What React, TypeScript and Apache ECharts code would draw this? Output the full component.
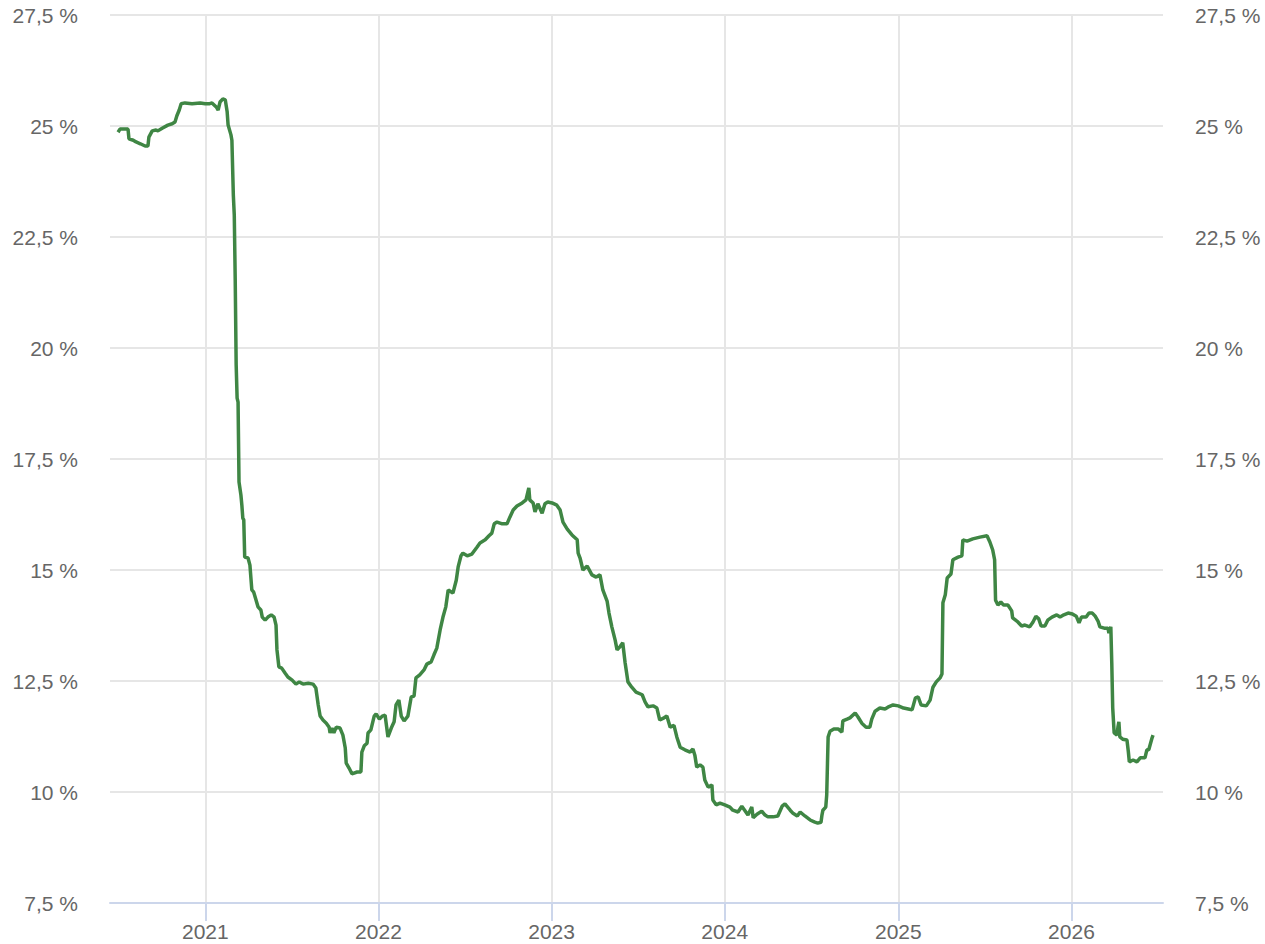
import React, { useEffect, useRef } from "react";
import * as echarts from "echarts";

const dates: string[] = [
  "2020-07-01","2020-07-05","2020-07-22","2020-07-24","2020-08-02","2020-08-08","2020-08-17","2020-08-27","2020-09-02","2020-09-04",
  "2020-09-11","2020-09-19","2020-09-23","2020-10-02","2020-10-14","2020-10-23","2020-10-29","2020-11-02","2020-11-07","2020-11-11",
  "2020-11-19","2020-12-04","2020-12-21",
  "2021-01-01","2021-01-09","2021-01-15","2021-01-24","2021-01-28","2021-02-01","2021-02-07","2021-02-12","2021-02-16","2021-02-18",
  "2021-02-24","2021-02-26","2021-03-01","2021-03-03","2021-03-05","2021-03-07","2021-03-09","2021-03-11","2021-03-13","2021-03-17",
  "2021-03-19","2021-03-21","2021-03-23","2021-03-25","2021-04-01","2021-04-05","2021-04-09","2021-04-13","2021-04-18","2021-04-22",
  "2021-04-28","2021-05-01","2021-05-07","2021-05-13","2021-05-20","2021-05-26","2021-05-30","2021-06-01","2021-06-05","2021-06-11",
  "2021-06-18","2021-06-24","2021-07-03","2021-07-11","2021-07-18","2021-07-26","2021-08-06","2021-08-16","2021-08-22","2021-08-27",
  "2021-08-31","2021-09-06","2021-09-13","2021-09-19","2021-09-21","2021-09-25","2021-09-29","2021-10-04","2021-10-12","2021-10-18",
  "2021-10-23","2021-10-25","2021-10-31","2021-11-06","2021-11-17","2021-11-25","2021-11-27","2021-12-02","2021-12-08","2021-12-10",
  "2021-12-16","2021-12-23","2021-12-27",
  "2022-01-03","2022-01-09","2022-01-15","2022-01-21","2022-01-28","2022-02-03","2022-02-07","2022-02-13","2022-02-18","2022-02-24",
  "2022-03-04","2022-03-11","2022-03-17","2022-03-21","2022-03-29","2022-04-07","2022-04-13","2022-04-22","2022-04-28","2022-05-04",
  "2022-05-11","2022-05-17","2022-05-23","2022-05-28","2022-06-07","2022-06-14","2022-06-18","2022-06-24","2022-06-28","2022-07-07",
  "2022-07-17","2022-07-28","2022-08-03","2022-08-14","2022-08-22","2022-08-28","2022-09-02","2022-09-08","2022-09-19","2022-09-29",
  "2022-10-05","2022-10-12","2022-10-20","2022-10-31","2022-11-08","2022-11-14","2022-11-16","2022-11-23","2022-11-27","2022-12-03",
  "2022-12-12","2022-12-18","2022-12-24",
  "2023-01-02","2023-01-12","2023-01-19","2023-01-25","2023-02-03","2023-02-13","2023-02-24","2023-02-26","2023-03-02","2023-03-08",
  "2023-03-17","2023-03-27","2023-04-05","2023-04-13","2023-04-19","2023-04-28","2023-05-02","2023-05-08","2023-05-15","2023-05-19",
  "2023-05-25","2023-05-31","2023-06-05","2023-06-11","2023-06-19","2023-06-28","2023-07-11","2023-07-17","2023-07-23","2023-08-03",
  "2023-08-11","2023-08-17","2023-08-26","2023-09-01","2023-09-08","2023-09-16","2023-09-22","2023-09-29","2023-10-09","2023-10-20",
  "2023-10-26","2023-10-30","2023-11-03","2023-11-10","2023-11-16","2023-11-20","2023-11-27","2023-12-05","2023-12-07","2023-12-14",
  "2023-12-22",
  "2024-01-01","2024-01-12","2024-01-18","2024-01-29","2024-02-06","2024-02-12","2024-02-19","2024-02-27","2024-03-01","2024-03-09",
  "2024-03-19","2024-03-26","2024-04-01","2024-04-12","2024-04-22","2024-05-01","2024-05-07","2024-05-18","2024-05-24","2024-06-02",
  "2024-06-08","2024-06-18","2024-06-29","2024-07-09","2024-07-15","2024-07-22","2024-07-24","2024-07-26","2024-08-01","2024-08-03",
  "2024-08-06","2024-08-10","2024-08-18","2024-08-27","2024-09-04","2024-09-06","2024-09-15","2024-09-21","2024-10-02","2024-10-08",
  "2024-10-16","2024-10-25","2024-11-02","2024-11-06","2024-11-13","2024-11-23","2024-12-04","2024-12-10","2024-12-21",
  "2025-01-01","2025-01-12","2025-01-22","2025-01-30","2025-02-06","2025-02-12","2025-02-18","2025-03-01","2025-03-09","2025-03-15",
  "2025-03-22","2025-03-30","2025-04-03","2025-04-05","2025-04-10","2025-04-14","2025-04-22","2025-04-26","2025-05-07","2025-05-15",
  "2025-05-17","2025-05-26","2025-06-07","2025-06-22","2025-07-07","2025-07-13","2025-07-19","2025-07-23","2025-07-25","2025-07-30",
  "2025-08-05","2025-08-11","2025-08-20","2025-08-28","2025-08-30","2025-09-10","2025-09-18","2025-09-25","2025-10-05","2025-10-12",
  "2025-10-18","2025-10-24","2025-10-29","2025-11-06","2025-11-12","2025-11-21","2025-12-01","2025-12-08","2025-12-16","2025-12-25",
  "2026-01-03","2026-01-11","2026-01-17","2026-01-22","2026-02-01","2026-02-07","2026-02-14","2026-02-20","2026-02-26","2026-03-02",
  "2026-03-11","2026-03-19","2026-03-21","2026-03-25","2026-03-27","2026-03-29","2026-04-01","2026-04-07","2026-04-09","2026-04-11",
  "2026-04-13","2026-04-19","2026-04-28","2026-05-01","2026-05-03","2026-05-11","2026-05-19","2026-05-26","2026-06-05","2026-06-09",
  "2026-06-13","2026-06-20","2026-06-22",
];

const rates: number[] = [
  24.86,24.93,24.93,24.71,24.68,24.64,24.6,24.55,24.55,24.75,
  24.89,24.91,24.89,24.95,25.02,25.05,25.09,25.23,25.36,25.5,
  25.52,25.5,25.52,
  25.5,25.5,25.52,25.43,25.36,25.54,25.61,25.59,25.32,25.02,
  24.8,24.68,23.45,23.0,21.53,19.62,18.87,18.78,16.98,16.69,
  16.46,16.17,16.13,15.29,15.27,15.11,14.55,14.5,14.32,14.17,
  14.1,13.94,13.87,13.94,13.99,13.94,13.76,13.2,12.82,12.79,
  12.68,12.59,12.52,12.43,12.48,12.43,12.45,12.43,12.34,11.96,
  11.71,11.62,11.55,11.46,11.33,11.44,11.33,11.46,11.44,11.28,
  10.99,10.65,10.54,10.41,10.45,10.45,10.9,11.04,11.1,11.33,
  11.4,11.71,11.76,
  11.64,11.71,11.73,11.24,11.44,11.58,11.96,12.07,11.71,11.6,
  11.71,12.14,12.16,12.57,12.64,12.75,12.88,12.93,13.09,13.24,
  13.65,13.94,14.17,14.55,14.48,14.77,15.07,15.32,15.38,15.32,
  15.36,15.52,15.61,15.68,15.77,15.83,16.04,16.08,16.04,16.04,
  16.19,16.35,16.44,16.51,16.58,16.85,16.58,16.51,16.31,16.49,
  16.28,16.49,16.53,
  16.51,16.46,16.35,16.08,15.92,15.79,15.68,15.38,15.27,15.0,
  15.09,14.89,14.84,14.89,14.55,14.3,14.03,13.72,13.42,13.2,
  13.27,13.36,12.91,12.48,12.36,12.25,12.19,12.03,11.92,11.94,
  11.89,11.62,11.67,11.71,11.46,11.5,11.24,11.01,10.95,10.9,
  10.97,10.83,10.56,10.61,10.56,10.27,10.11,10.16,9.82,9.71,
  9.75,
  9.71,9.66,9.59,9.55,9.68,9.59,9.48,9.66,9.42,9.5,
  9.57,9.48,9.44,9.44,9.46,9.68,9.73,9.59,9.52,9.46,
  9.55,9.46,9.37,9.32,9.3,9.32,9.48,9.59,9.66,9.93,
  11.24,11.37,11.42,11.42,11.35,11.6,11.64,11.67,11.78,11.69,
  11.55,11.46,11.46,11.64,11.82,11.89,11.87,11.91,11.96,
  11.94,11.89,11.87,11.85,12.12,12.14,11.96,11.94,12.07,12.36,
  12.48,12.57,12.66,14.26,14.44,14.82,14.91,15.23,15.29,15.32,
  15.68,15.65,15.7,15.74,15.77,15.63,15.45,15.23,14.32,14.21,
  14.28,14.21,14.21,14.08,13.92,13.83,13.74,13.76,13.72,13.83,
  13.96,13.9,13.74,13.74,13.87,13.94,13.99,13.94,13.99,14.03,
  14.01,13.96,13.81,13.94,13.94,14.03,14.03,13.96,13.85,13.72,
  13.69,13.69,13.58,13.72,12.91,11.89,11.33,11.28,11.46,11.58,
  11.24,11.19,11.17,10.9,10.68,10.72,10.68,10.77,10.77,10.95,
  10.95,11.22,11.28,
];

const yTicks: number[] = [7.5, 10, 12.5, 15, 17.5, 20, 22.5, 25, 27.5];
const xMin = "2020-06-14";
const xMax = "2026-07-13";

const fmtPct = (v: number) => String(v).replace(".", ",") + " %";

export default function App() {
  const ref = useRef<HTMLDivElement>(null);
  useEffect(() => {
    if (!ref.current) return;
    const chart = echarts.init(ref.current, undefined, { renderer: "svg" });
    const labelStyle = {
      color: "#666666",
      fontSize: 21,
      fontFamily: "Liberation Sans, Arial, sans-serif",
    };
    const yBase = {
      type: "value" as const,
      min: yTicks[0],
      max: yTicks[yTicks.length - 1],
      interval: 2.5,
      axisLine: { show: false },
      axisTick: { show: false },
    };
    chart.setOption({
      animation: false,
      backgroundColor: "#ffffff",
      grid: { left: 110, right: 102, top: 15, bottom: 41, containLabel: false },
      xAxis: {
        type: "time",
        min: xMin,
        max: xMax,
        splitNumber: 6,
        axisLine: { show: true, lineStyle: { color: "#ccd6eb", width: 2 } },
        axisTick: { show: true, length: 18, lineStyle: { color: "#ccd6eb", width: 2 } },
        splitLine: {
          show: true,
          showMinLine: false,
          showMaxLine: false,
          lineStyle: { color: "#e6e6e6", width: 2 },
        },
        minorTick: { show: false },
        axisLabel: {
          ...labelStyle,
          margin: 18,
          formatter: (v: number) => String(new Date(v).getFullYear()),
          showMinLabel: false,
          showMaxLabel: false,
        },
      },
      yAxis: [
        {
          ...yBase,
          position: "left",
          splitLine: { show: true, lineStyle: { color: "#e6e6e6", width: 2 } },
          axisLabel: { ...labelStyle, margin: 32, formatter: fmtPct },
        },
        {
          ...yBase,
          position: "right",
          splitLine: { show: false },
          axisLabel: { ...labelStyle, margin: 32, formatter: fmtPct },
        },
      ],
      series: [
        {
          type: "line",
          yAxisIndex: 0,
          data: dates.map((d, i) => [d, rates[i]]),
          showSymbol: false,
          symbol: "none",
          lineStyle: { color: "#3f8644", width: 3.5 },
          itemStyle: { color: "#3f8644" },
        },
      ],
    });
    return () => chart.dispose();
  }, []);
  return (
    <div
      ref={ref}
      style={{ position: "absolute", left: 0, top: 0, width: 1265, height: 944 }}
    />
  );
}
